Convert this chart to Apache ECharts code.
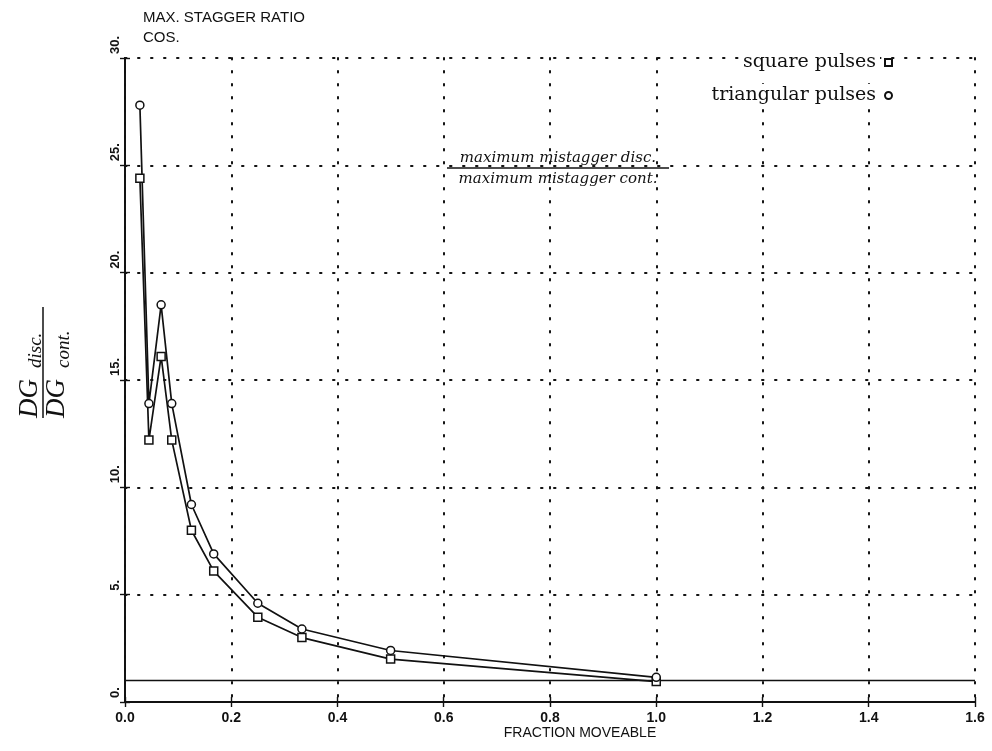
<!DOCTYPE html>
<html>
<head>
<meta charset="utf-8">
<script src="https://cdn.jsdelivr.net/npm/echarts@6/dist/echarts.min.js"></script>
<style>
  html, body { margin: 0; padding: 0; background: #fff; }
  #chart { width: 992px; height: 751px; }
</style>
</head>
<body>
<div id="chart"></div>
<script>
// values
const fractionMoveable = [0.028, 0.045, 0.068, 0.088, 0.125, 0.167, 0.25, 0.333, 0.5, 1.0];
const squarePulses = [24.4, 12.2, 16.1, 12.2, 8.0, 6.1, 3.95, 3.0, 2.0, 0.95];
const triangularPulses = [27.8, 13.9, 18.5, 13.9, 9.2, 6.9, 4.6, 3.4, 2.4, 1.15];
const unityX = [0, 1.6];
const unityY = [1, 1];

const ink = '#111';
const sans = 'Liberation Sans';
const serif = 'DejaVu Serif';

const chart = echarts.init(document.getElementById('chart'));

function pairs(xs, ys) {
  return xs.map((x, i) => [x, ys[i]]);
}

// dotted grid like the plotter output
const dotted = { color: ink, width: 2, type: [1.5, 11.5], cap: 'round' };

const xBase = {
  type: 'value', min: 0, max: 1.6, interval: 0.2, position: 'bottom',
  axisLine: { show: true, onZero: false, lineStyle: { color: ink, width: 1.8 } }
};
const yBase = {
  type: 'value', min: 0, max: 30, interval: 5, position: 'left',
  axisLine: { show: true, onZero: false, lineStyle: { color: ink, width: 1.8 } }
};

chart.setOption({
  animation: false,
  backgroundColor: '#fff',
  grid: { left: 125, right: 17, top: 58, bottom: 49 },
  xAxis: [
    Object.assign({}, xBase, {
      axisTick: { show: true, length: 5, lineStyle: { color: ink, width: 1.4 } },
      axisLabel: {
        color: ink, fontFamily: sans, fontWeight: 'bold', fontSize: 14, margin: 9,
        formatter: v => v.toFixed(1)
      },
      splitLine: { show: true, lineStyle: dotted }
    }),
    Object.assign({}, xBase, {
      axisTick: { show: true, inside: true, length: 5, lineStyle: { color: ink, width: 1.4 } },
      axisLabel: { show: false },
      splitLine: { show: false }
    })
  ],
  yAxis: [
    Object.assign({}, yBase, {
      axisTick: { show: true, length: 5, lineStyle: { color: ink, width: 1.4 } },
      axisLabel: {
        color: ink, fontFamily: sans, fontWeight: 'bold', fontSize: 13, margin: 3,
        rotate: 90, align: 'left', padding: [0, 0, 0, 4], formatter: v => v + '.'
      },
      splitLine: { show: true, lineStyle: dotted }
    }),
    Object.assign({}, yBase, {
      axisTick: { show: true, inside: true, length: 5, lineStyle: { color: ink, width: 1.4 } },
      axisLabel: { show: false },
      splitLine: { show: false }
    })
  ],
  legend: {
    orient: 'vertical', right: 94, top: 46, align: 'right', itemGap: 10,
    itemWidth: 7, itemHeight: 7, selectedMode: false,
    textStyle: {
      color: ink, fontFamily: serif, fontSize: 19,
      backgroundColor: '#fff', padding: [2, 4, 2, 4]
    },
    data: [
      { name: 'square pulses', icon: 'rect' },
      { name: 'triangular pulses', icon: 'circle' }
    ]
  },
  series: [
    {
      name: 'unity', type: 'line', data: pairs(unityX, unityY),
      symbol: 'none', silent: true,
      lineStyle: { color: ink, width: 1.6 }
    },
    {
      name: 'square pulses', type: 'line', data: pairs(fractionMoveable, squarePulses),
      symbol: 'rect', symbolSize: 8,
      lineStyle: { color: ink, width: 1.7 },
      itemStyle: { color: '#fff', borderColor: ink, borderWidth: 1.5 }
    },
    {
      name: 'triangular pulses', type: 'line', data: pairs(fractionMoveable, triangularPulses),
      symbol: 'circle', symbolSize: 8,
      lineStyle: { color: ink, width: 1.7 },
      itemStyle: { color: '#fff', borderColor: ink, borderWidth: 1.5 }
    }
  ],
  graphic: [
    {
      type: 'text', left: 143, top: 10,
      style: { text: 'MAX. STAGGER RATIO', fill: ink, font: '15px "Liberation Sans"' }
    },
    {
      type: 'text', left: 143, top: 30,
      style: { text: 'COS.', fill: ink, font: '15px "Liberation Sans"' }
    },
    {
      type: 'text', x: 580, y: 733,
      style: { text: 'FRACTION MOVEABLE', fill: ink, font: '14px "Liberation Sans"', align: 'center', verticalAlign: 'middle' }
    },
    {
      // ratio label inside the plot
      type: 'group', x: 558, y: 168,
      children: [
        {
          type: 'text', x: 0, y: -10,
          style: { text: 'maximum mistagger disc.', fill: ink, font: 'italic 15px "DejaVu Serif"', align: 'center', verticalAlign: 'middle' }
        },
        { type: 'line', shape: { x1: -111, y1: 0, x2: 111, y2: 0 }, style: { stroke: ink, lineWidth: 1.3 } },
        {
          type: 'text', x: 0, y: 11,
          style: { text: 'maximum mistagger cont.', fill: ink, font: 'italic 15px "DejaVu Serif"', align: 'center', verticalAlign: 'middle' }
        }
      ]
    },
    {
      // y title: DG_disc. / DG_cont., reading bottom to top
      type: 'group', x: 44, y: 362, rotation: Math.PI / 2,
      children: [
        {
          type: 'text', x: -56, y: -14,
          style: { text: 'DG', fill: ink, font: 'italic 27px "Liberation Serif"', align: 'left', verticalAlign: 'middle' }
        },
        {
          type: 'text', x: -6, y: -8,
          style: { text: 'disc.', fill: ink, font: 'italic 19px "Liberation Serif"', align: 'left', verticalAlign: 'middle' }
        },
        { type: 'line', shape: { x1: -56, y1: -1, x2: 55, y2: -1 }, style: { stroke: ink, lineWidth: 1.5 } },
        {
          type: 'text', x: -56, y: 13,
          style: { text: 'DG', fill: ink, font: 'italic 27px "Liberation Serif"', align: 'left', verticalAlign: 'middle' }
        },
        {
          type: 'text', x: -6, y: 20,
          style: { text: 'cont.', fill: ink, font: 'italic 19px "Liberation Serif"', align: 'left', verticalAlign: 'middle' }
        }
      ]
    }
  ]
});
</script>
</body>
</html>
